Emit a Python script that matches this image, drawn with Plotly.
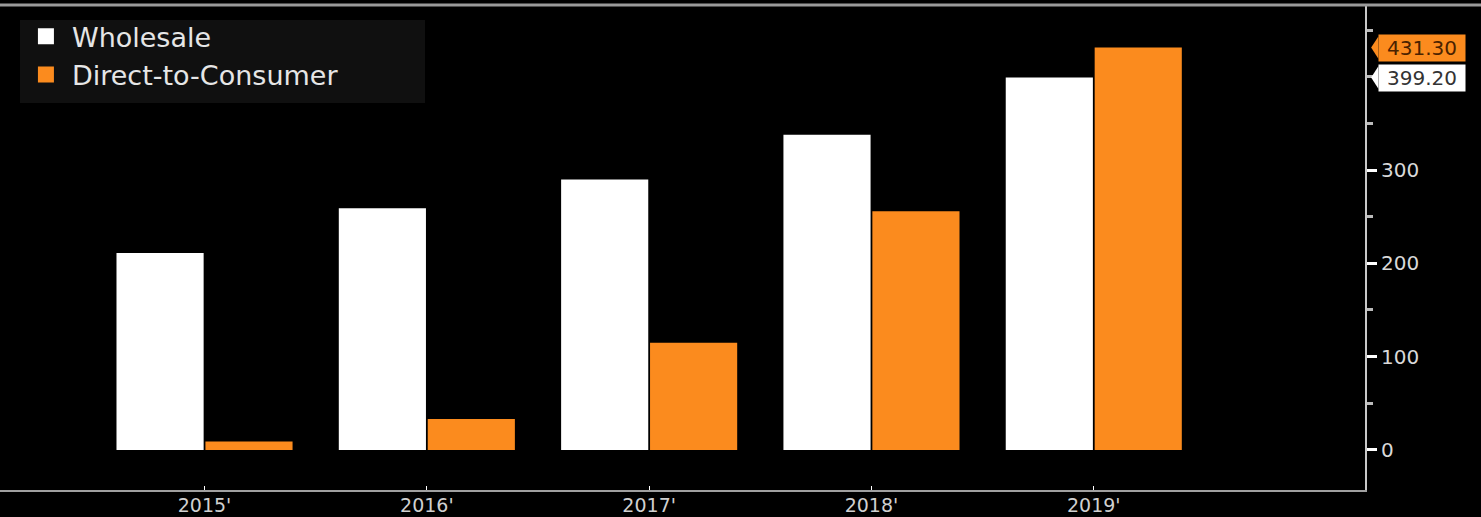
import plotly.graph_objects as go

categories = ["2015'", "2016'", "2017'", "2018'", "2019'"]
wholesale = [211, 259, 290, 338, 399.2]
dtc = [9, 33, 115, 256, 431.3]
tick_vals = [0, 100, 200, 300]

WHITE = "#ffffff"
ORANGE = "#fb8b1e"
FONT = "DejaVu Sans"

fig = go.Figure()
fig.add_bar(x=categories, y=wholesale, name="Wholesale", showlegend=False,
            marker=dict(color=WHITE, line=dict(width=0)))
fig.add_bar(x=categories, y=dtc, name="Direct-to-Consumer", showlegend=False,
            marker=dict(color=ORANGE, line=dict(width=0)))
# legend entries with large square swatches
for nm, col in [("Wholesale", WHITE), ("Direct-to-Consumer", ORANGE)]:
    fig.add_scatter(x=[None], y=[None], mode="markers", name=nm,
                    marker=dict(symbol="square", size=16, color=col))

fig.update_layout(
    width=1481, height=517,
    paper_bgcolor="#000000", plot_bgcolor="#000000",
    margin=dict(l=0, r=116, t=5, b=27),
    barmode="group", bargap=0.2, bargroupgap=0.02,
    font=dict(family=FONT, color="#d9d9d9"),
    showlegend=True,
    legend=dict(x=0.0146, y=0.985, xanchor="left", yanchor="top",
                bgcolor="rgba(0,0,0,0)", font=dict(size=27, color="#e6e6e6", family=FONT),
                itemsizing="trace", tracegroupgap=0, itemwidth=42,
                borderwidth=0),
    xaxis=dict(range=[-0.92, 5.22], showgrid=False, zeroline=False, automargin=False,
               showline=True, linecolor="#a0a0a0", linewidth=2,
               ticks="inside", ticklen=4, tickcolor="#ffffff", ticklabelstandoff=-3,
               tickfont=dict(size=19, color="#d0d0d0", family=FONT)),
    yaxis=dict(side="right", range=[-43, 477], showgrid=False, zeroline=False, automargin=False,
               showline=True, linecolor="#c8c8c8", linewidth=2,
               tickvals=tick_vals, ticks="outside", ticklen=10, tickwidth=3,
               tickcolor="#ffffff",
               tickfont=dict(size=20, color="#d9d9d9", family=FONT),
               minor=dict(dtick=50, ticks="outside", ticklen=6, tickcolor="#bbbbbb")),
)

# legend background panel
fig.add_shape(type="rect", xref="paper", yref="paper", layer="below",
              x0=20 / 1365, x1=425 / 1365, y0=1 - 98 / 485, y1=1 - 15 / 485,
              fillcolor="#101010", line=dict(width=0))

# top border line
fig.add_shape(type="line", xref="paper", yref="paper", x0=-0.01, x1=1.1, y0=1.0, y1=1.0,
              line=dict(color="#9a9a9a", width=3))

# last-value tags with pointer
def tag(val, bg, fg):
    fig.add_annotation(xref="paper", yref="y", x=1.0097, y=val, xanchor="left",
                       text=f"{val:.2f}", showarrow=False, width=84,
                       font=dict(size=20, color=fg, family=FONT),
                       bgcolor=bg, borderpad=1)
    d = 12
    fig.add_shape(type="path", xref="paper", yref="y", layer="above",
                  path=f"M 1.0045,{val} L 1.0098,{val + d} L 1.0098,{val - d} Z",
                  fillcolor=bg, line=dict(width=0))

tag(dtc[-1], ORANGE, "#4a2200")
tag(wholesale[-1], WHITE, "#333333")

fig.write_html("out.html")
